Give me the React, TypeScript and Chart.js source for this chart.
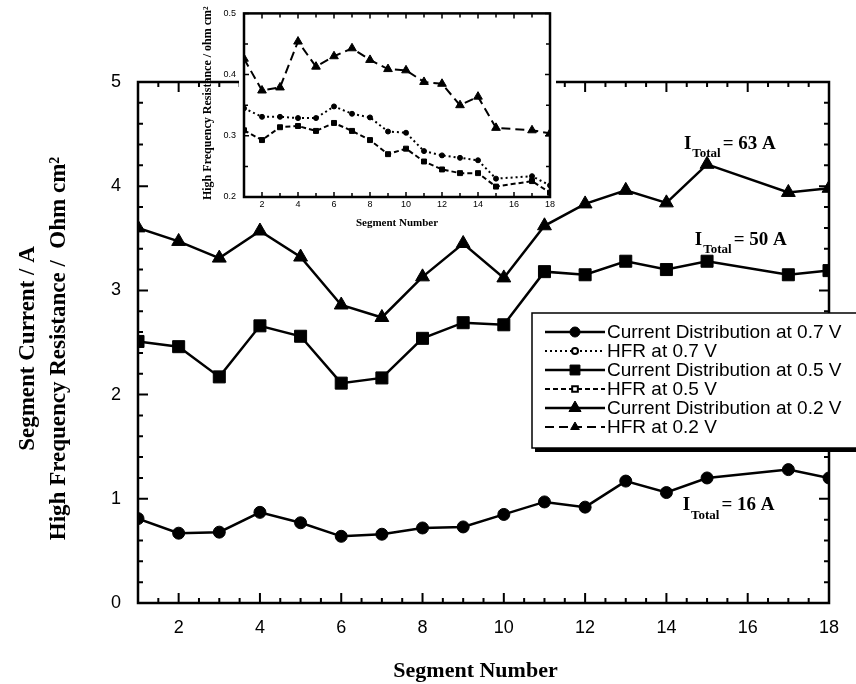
import React, { useEffect, useRef } from 'react';
import { Chart, registerables } from 'chart.js';
import { drawPoint } from 'chart.js/helpers';

Chart.register(...registerables);

// ---------- data ----------
const segments = [1, 2, 3, 4, 5, 6, 7, 8, 9, 10, 11, 12, 13, 14, 15, 17, 18];
const current07 = [0.81, 0.67, 0.68, 0.87, 0.77, 0.64, 0.66, 0.72, 0.73, 0.85, 0.97, 0.92, 1.17, 1.06, 1.2, 1.28, 1.2];
const current05 = [2.51, 2.46, 2.17, 2.66, 2.56, 2.11, 2.16, 2.54, 2.69, 2.67, 3.18, 3.15, 3.28, 3.2, 3.28, 3.15, 3.19];
const current02 = [3.6, 3.47, 3.31, 3.57, 3.32, 2.86, 2.74, 3.13, 3.45, 3.12, 3.62, 3.83, 3.96, 3.84, 4.21, 3.94, 3.98];
const hfr07 = [0.345, 0.331, 0.331, 0.329, 0.329, 0.348, 0.336, 0.33, 0.307, 0.305, 0.275, 0.268, 0.264, 0.26, 0.23, 0.234, 0.219];
const hfr05 = [0.309, 0.293, 0.314, 0.316, 0.308, 0.321, 0.308, 0.293, 0.27, 0.279, 0.258, 0.245, 0.239, 0.239, 0.217, 0.226, 0.207];
const hfr02 = [0.426, 0.374, 0.379, 0.454, 0.413, 0.43, 0.443, 0.424, 0.409, 0.407, 0.388, 0.385, 0.35, 0.364, 0.313, 0.309, 0.304];

const mainXTicks = [2, 4, 6, 8, 10, 12, 14, 16, 18];
const mainYTicks = [0, 1, 2, 3, 4, 5];
const insetXTicks = [2, 4, 6, 8, 10, 12, 14, 16, 18];
const insetYTicks = [0.2, 0.3, 0.4, 0.5];

const annotationX = [14.43, 14.7, 14.4];
const annotationY = [4.36, 3.44, 0.89];
const annotationText = ['= 63 A', '= 50 A', '= 16 A'];

const mainXTitle = 'Segment Number';
const mainYTitle1 = 'Segment Current / A';
const mainYTitle2 = 'High Frequency Resistance /  Ohm cm\u00B2';
const insetXTitle = 'Segment Number';
const insetYTitle = 'High Frequency Resistance / ohm cm\u00B2';

// ---------- styles ----------
const SANS = '"Liberation Sans", Arial, sans-serif';
const SERIF = '"Liberation Serif", "Times New Roman", serif';

const toPts = (ys: number[]) => segments.map((x, i) => ({ x, y: ys[i] }));

const dsCur07: any = {
  label: 'Current Distribution at 0.7 V', data: toPts(current07),
  borderColor: '#000', backgroundColor: '#000', borderWidth: 2.5, borderDash: [],
  pointStyle: 'circle', pointRadius: 6, pointBackgroundColor: '#000', pointBorderColor: '#000', pointBorderWidth: 1,
  legendRadius: 5, legendFill: '#000', legendBorder: 1,
};
const dsCur05: any = {
  label: 'Current Distribution at 0.5 V', data: toPts(current05),
  borderColor: '#000', backgroundColor: '#000', borderWidth: 2.5, borderDash: [],
  pointStyle: 'rect', pointRadius: 8.5, pointBackgroundColor: '#000', pointBorderColor: '#000', pointBorderWidth: 1,
  legendRadius: 7, legendFill: '#000', legendBorder: 1,
};
const dsCur02: any = {
  label: 'Current Distribution at 0.2 V', data: toPts(current02),
  borderColor: '#000', backgroundColor: '#000', borderWidth: 2.5, borderDash: [],
  pointStyle: 'triangle', pointRadius: 8, pointBackgroundColor: '#000', pointBorderColor: '#000', pointBorderWidth: 1,
  legendRadius: 7, legendFill: '#000', legendBorder: 1,
};
const dsHfr07: any = {
  label: 'HFR at 0.7 V', data: toPts(hfr07),
  borderColor: '#000', backgroundColor: '#000', borderWidth: 2, borderDash: [2, 3],
  pointStyle: 'circle', pointRadius: 2.5, pointBackgroundColor: '#000', pointBorderColor: '#000', pointBorderWidth: 1,
  legendRadius: 3, legendFill: '#fff', legendBorder: 2,
};
const dsHfr05: any = {
  label: 'HFR at 0.5 V', data: toPts(hfr05),
  borderColor: '#000', backgroundColor: '#000', borderWidth: 2, borderDash: [5, 3],
  pointStyle: 'rect', pointRadius: 3.5, pointBackgroundColor: '#000', pointBorderColor: '#000', pointBorderWidth: 1,
  legendRadius: 4, legendFill: '#fff', legendBorder: 2,
};
const dsHfr02: any = {
  label: 'HFR at 0.2 V', data: toPts(hfr02),
  borderColor: '#000', backgroundColor: '#000', borderWidth: 2, borderDash: [9, 5],
  pointStyle: 'triangle', pointRadius: 5, pointBackgroundColor: '#000', pointBorderColor: '#000', pointBorderWidth: 1,
  legendRadius: 5, legendFill: '#000', legendBorder: 1,
};

const legendEntries = [dsCur07, dsHfr07, dsCur05, dsHfr05, dsCur02, dsHfr02];

function drawFrame(chart: any, o: any) {
  const { ctx, chartArea: a, scales } = chart;
  const xs = scales.x, ys = scales.y;
  ctx.save();
  ctx.strokeStyle = '#000';
  ctx.lineWidth = o.frameWidth;
  ctx.setLineDash([]);
  ctx.strokeRect(a.left, a.top, a.right - a.left, a.bottom - a.top);
  ctx.lineWidth = o.tickWidth;
  ctx.beginPath();
  const xStepCount = Math.round((xs.max - xs.min) / o.xMinorStep);
  for (let i = 0; i <= xStepCount; i++) {
    const v = xs.min + i * o.xMinorStep;
    const major = Math.abs(v / o.xMajorStep - Math.round(v / o.xMajorStep)) < 1e-6;
    const len = major ? o.majorLen : o.minorLen;
    const px = xs.getPixelForValue(v);
    ctx.moveTo(px, a.bottom); ctx.lineTo(px, a.bottom - len);
    ctx.moveTo(px, a.top); ctx.lineTo(px, a.top + len);
  }
  const yStepCount = Math.round((ys.max - ys.min) / o.yMinorStep);
  for (let i = 0; i <= yStepCount; i++) {
    const v = ys.min + i * o.yMinorStep;
    const major = Math.abs(v / o.yMajorStep - Math.round(v / o.yMajorStep)) < 1e-6;
    const len = major ? o.majorLen : o.minorLen;
    const py = ys.getPixelForValue(v);
    ctx.moveTo(a.left, py); ctx.lineTo(a.left + len, py);
    ctx.moveTo(a.right, py); ctx.lineTo(a.right - len, py);
  }
  ctx.stroke();
  ctx.restore();
}

const mainDecor = {
  id: 'mainDecor',
  beforeDatasetsDraw(chart: any) {
    drawFrame(chart, { frameWidth: 2.5, tickWidth: 2, xMinorStep: 0.5, xMajorStep: 2, yMinorStep: 0.2, yMajorStep: 1, majorLen: 10, minorLen: 5 });
  },
  afterDraw(chart: any) {
    const { ctx, chartArea: a, scales } = chart;
    const xs = scales.x, ys = scales.y;
    ctx.save();
    ctx.fillStyle = '#000';
    // annotations
    for (let i = 0; i < annotationText.length; i++) {
      const px = xs.getPixelForValue(annotationX[i]);
      const py = ys.getPixelForValue(annotationY[i]);
      ctx.textAlign = 'left';
      ctx.textBaseline = 'alphabetic';
      ctx.font = `bold 19px ${SERIF}`;
      ctx.fillText('I', px, py);
      const wI = ctx.measureText('I').width;
      ctx.font = `bold 13px ${SERIF}`;
      ctx.fillText('Total', px + wI + 1, py + 8.5);
      const wT = ctx.measureText('Total').width;
      ctx.font = `bold 19px ${SERIF}`;
      ctx.fillText(annotationText[i], px + wI + 1 + wT + 2, py);
    }
    // axis titles
    ctx.textAlign = 'center';
    ctx.textBaseline = 'middle';
    ctx.font = `bold 22px ${SERIF}`;
    ctx.fillText(mainXTitle, (a.left + a.right) / 2 - 8, 671);
    const cy = (a.top + a.bottom) / 2 + 6;
    ctx.save();
    ctx.translate(28, cy);
    ctx.rotate(-Math.PI / 2);
    ctx.font = `bold 23px ${SERIF}`;
    ctx.fillText(mainYTitle1, 0, 0);
    ctx.restore();
    ctx.save();
    ctx.translate(59, cy);
    ctx.rotate(-Math.PI / 2);
    ctx.font = `bold 23px ${SERIF}`;
    ctx.fillText(mainYTitle2, 0, 0);
    ctx.restore();

    // legend box
    const L = 532, T = 313, W = 340, H = 135;
    ctx.fillStyle = '#000';
    ctx.fillRect(L + 3, T + 4, W, H);
    ctx.fillStyle = '#fff';
    ctx.fillRect(L, T, W, H);
    ctx.strokeStyle = '#000';
    ctx.lineWidth = 1.5;
    ctx.strokeRect(L, T, W, H);
    const rowY0 = 332, rowStep = 19;
    legendEntries.forEach((e: any, i: number) => {
      const y = rowY0 + i * rowStep;
      ctx.save();
      ctx.strokeStyle = e.borderColor;
      ctx.lineWidth = e.borderWidth;
      ctx.setLineDash(e.borderDash);
      ctx.beginPath();
      ctx.moveTo(545, y);
      ctx.lineTo(605, y);
      ctx.stroke();
      ctx.setLineDash([]);
      ctx.fillStyle = e.legendFill;
      ctx.strokeStyle = e.pointBorderColor;
      ctx.lineWidth = e.legendBorder;
      drawPoint(ctx, { pointStyle: e.pointStyle, radius: e.legendRadius, rotation: 0, borderWidth: e.legendBorder } as any, 575, y);
      ctx.restore();
      ctx.fillStyle = '#000';
      ctx.textAlign = 'left';
      ctx.textBaseline = 'middle';
      ctx.font = `19px ${SANS}`;
      ctx.fillText(e.label, 607, y + 1);
    });
    ctx.restore();
  },
};

const insetDecor = {
  id: 'insetDecor',
  beforeDraw(chart: any) {
    const { ctx, chartArea: a } = chart;
    ctx.save();
    ctx.fillStyle = '#fff';
    ctx.fillRect(a.left - 5, 0, a.right - a.left + 11, a.bottom + 3);
    ctx.restore();
  },
  beforeDatasetsDraw(chart: any) {
    drawFrame(chart, { frameWidth: 2.5, tickWidth: 1.5, xMinorStep: 1, xMajorStep: 2, yMinorStep: 0.05, yMajorStep: 0.1, majorLen: 5, minorLen: 4 });
  },
  afterDraw(chart: any) {
    const { ctx, chartArea: a } = chart;
    ctx.save();
    ctx.fillStyle = '#000';
    ctx.textAlign = 'center';
    ctx.textBaseline = 'middle';
    ctx.font = `bold 11px ${SERIF}`;
    ctx.fillText(insetXTitle, (a.left + a.right) / 2, 223);
    ctx.translate(18, (a.top + a.bottom) / 2 - 2);
    ctx.rotate(-Math.PI / 2);
    ctx.font = `bold 12px ${SERIF}`;
    ctx.fillText(insetYTitle, 0, 0);
    ctx.restore();
  },
};

export default function App() {
  const mainRef = useRef<HTMLCanvasElement>(null);
  const insetRef = useRef<HTMLCanvasElement>(null);

  useEffect(() => {
    const main = new Chart(mainRef.current as HTMLCanvasElement, {
      type: 'line',
      data: { datasets: [dsCur07, dsCur05, dsCur02] },
      options: {
        responsive: false,
        animation: false,
        devicePixelRatio: 1,
        layout: { padding: { left: 0, right: 27, top: 82, bottom: 0 } },
        elements: { line: { tension: 0 } },
        plugins: { legend: { display: false }, tooltip: { enabled: false }, title: { display: false } },
        scales: {
          x: {
            type: 'linear', min: 1, max: 18,
            afterBuildTicks: (s: any) => { s.ticks = mainXTicks.map((v) => ({ value: v })); },
            afterFit: (s: any) => { s.height = 81; },
            grid: { display: false, drawTicks: false },
            border: { display: false },
            ticks: { color: '#000', font: { family: SANS, size: 18 }, padding: 14, maxRotation: 0, autoSkip: false },
          },
          y: {
            type: 'linear', min: 0, max: 5,
            afterBuildTicks: (s: any) => { s.ticks = mainYTicks.map((v) => ({ value: v })); },
            afterFit: (s: any) => { s.width = 138; },
            grid: { display: false, drawTicks: false },
            border: { display: false },
            ticks: { color: '#000', font: { family: SANS, size: 18 }, padding: 17, autoSkip: false },
          },
        },
      } as any,
      plugins: [mainDecor],
    });

    const inset = new Chart(insetRef.current as HTMLCanvasElement, {
      type: 'line',
      data: { datasets: [dsHfr07, dsHfr05, dsHfr02] },
      options: {
        responsive: false,
        animation: false,
        devicePixelRatio: 1,
        layout: { padding: { left: 0, right: 10, top: 13, bottom: 0 } },
        elements: { line: { tension: 0 } },
        plugins: { legend: { display: false }, tooltip: { enabled: false }, title: { display: false } },
        scales: {
          x: {
            type: 'linear', min: 1, max: 18,
            afterBuildTicks: (s: any) => { s.ticks = insetXTicks.map((v) => ({ value: v })); },
            afterFit: (s: any) => { s.height = 38; },
            grid: { display: false, drawTicks: false },
            border: { display: false },
            ticks: { color: '#000', font: { family: SANS, size: 9 }, padding: 2, maxRotation: 0, autoSkip: false },
          },
          y: {
            type: 'linear', min: 0.2, max: 0.5,
            afterBuildTicks: (s: any) => { s.ticks = insetYTicks.map((v) => ({ value: v })); },
            afterFit: (s: any) => { s.width = 54; },
            grid: { display: false, drawTicks: false },
            border: { display: false },
            ticks: { color: '#000', font: { family: SANS, size: 9 }, padding: 8, autoSkip: false, callback: (v: any) => Number(v).toFixed(1) },
          },
        },
      } as any,
      plugins: [insetDecor],
    });

    return () => {
      main.destroy();
      inset.destroy();
    };
  }, []);

  return (
    <div style={{ position: 'absolute', left: 0, top: 0, width: 856, height: 684, background: '#fff', overflow: 'hidden' }}>
      <canvas ref={mainRef} width={856} height={684} style={{ position: 'absolute', left: 0, top: 0, width: 856, height: 684 }} />
      <canvas ref={insetRef} width={370} height={235} style={{ position: 'absolute', left: 190, top: 0, width: 370, height: 235 }} />
    </div>
  );
}
